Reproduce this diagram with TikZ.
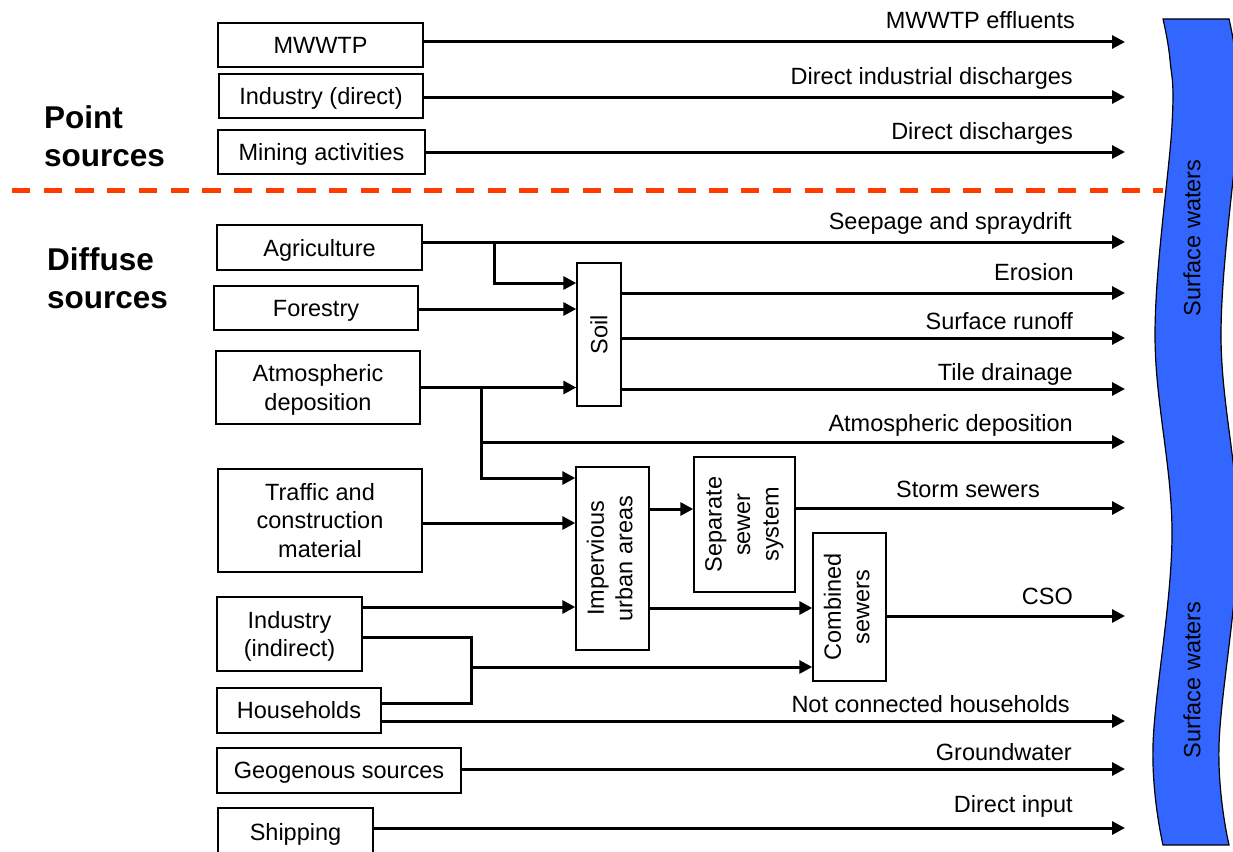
\documentclass[tikz,border=0pt]{standalone}
\usepackage{fontspec}
\setmainfont{Liberation Sans}
\usetikzlibrary{arrows.meta}
\definecolor{riverblue}{RGB}{51,102,255}
\definecolor{sepred}{RGB}{255,60,0}
\newcommand\nodepth[1]{\raisebox{0pt}[\height][0pt]{#1}}
\begin{document}
\begin{tikzpicture}[x=1pt,y=-1pt,
  box/.style={draw,line width=1.4pt,inner sep=0pt,align=center,font=\fontsize{23.5}{28.5}\selectfont},
  arr/.style={line width=3pt,-{Triangle[length=13pt,width=13pt]}},
  ln/.style={line width=3pt},
  lab/.style={anchor=base east,inner sep=0pt,font=\fontsize{23.5}{28.5}\selectfont},
  ttl/.style={anchor=west,inner sep=0pt,align=left,font=\fontsize{31.5}{38}\selectfont\bfseries},
  sw/.style={rotate=90,inner sep=0pt,font=\fontsize{23.5}{28.5}\selectfont}]
\useasboundingbox (0,0) rectangle (1233,851);

% separator
\draw[sepred,line width=5pt,dash pattern=on 18.3pt off 13.4pt] (12,190) -- (1163,190);

% river
\filldraw[fill=riverblue,draw=black,line width=1.2pt]
  plot[smooth,tension=0.6] coordinates {(1163,19) (1170,60) (1172,125) (1155,335) (1172,535) (1153,745) (1163,845)}
  -- plot[smooth,tension=0.6] coordinates {(1229,845) (1219,745) (1238,535) (1221,335) (1238,125) (1236,60) (1229,19)} -- cycle;
\node[sw] (sw1) at (1192,238) {Surface waters};
\node[sw] (sw2) at (1192,680) {Surface waters};

% titles
\node[ttl] (pt) at (44,136) {Point\\sources};
\node[ttl] (df) at (47,278) {Diffuse\\sources};

% source boxes
\node[box,minimum width=205,minimum height=44] (mwwtp) at (320.5,45) {MWWTP};
\node[box,minimum width=204,minimum height=44] (inddir) at (321,96) {\nodepth{Industry (direct)}};
\node[box,minimum width=207,minimum height=44] (mining) at (321.5,152) {\nodepth{Mining activities}};
\node[box,minimum width=205,minimum height=45] (agri) at (319.5,247.5) {\nodepth{Agriculture}};
\node[box,minimum width=204,minimum height=44] (forest) at (316,308) {\nodepth{Forestry}};
\node[box,minimum width=204,minimum height=73] (atmo) at (318,387.5) {Atmospheric\\\nodepth{deposition}};
\node[box,minimum width=204,minimum height=103] (traffic) at (320,520.5) {Traffic and\\construction\\material};
\node[box,minimum width=145,minimum height=74] (indind) at (289.5,634) {Industry\\\nodepth{(indirect)}};
\node[box,minimum width=164,minimum height=45] (house) at (299,710.5) {Households};
\node[box,minimum width=244,minimum height=45] (geo) at (339,770.5) {\nodepth{Geogenous sources}};
\node[box,minimum width=155,minimum height=47] (ship) at (295.5,831.5) {\nodepth{Shipping}};

% intermediate boxes
\node[box,minimum width=44,minimum height=143] (soil) at (599,334.5) {\rotatebox{90}{Soil}};
\node[box,minimum width=73,minimum height=183] (imperv) at (612.5,558.5) {\rotatebox{90}{\begin{tabular}{@{}c@{}}Impervious\\urban areas\end{tabular}}};
\node[box,minimum width=101,minimum height=135] (sep) at (744.5,524.5) {\rotatebox{90}{\begin{tabular}{@{}c@{}}Separate\\sewer\\\nodepth{system}\end{tabular}}};
\node[box,minimum width=73,minimum height=148] (comb) at (849.5,607) {\rotatebox{90}{\begin{tabular}{@{}c@{}}Combined\\sewers\end{tabular}}};

% arrow ends at the river
\coordinate (e1) at (1125,42);
\coordinate (e2) at (1125,97);
\coordinate (e3) at (1125,152);
\coordinate (e4) at (1125,242);
\coordinate (e5) at (1125,293);
\coordinate (e6) at (1125,338);
\coordinate (e7) at (1125,389);
\coordinate (e8) at (1125,442);
\coordinate (e9) at (1125,508);
\coordinate (e10) at (1125,616);
\coordinate (e11) at (1125,721);
\coordinate (e12) at (1125,769);
\coordinate (e13) at (1125,828);
% junctions
\coordinate (j1) at (494,242);
\coordinate (j2) at (481,387.5);
\coordinate (j3) at (471,667);

% point source arrows
\draw[arr] (mwwtp.east |- e1) -- (e1);
\draw[arr] (inddir.east |- e2) -- (e2);
\draw[arr] (mining.east |- e3) -- (e3);

% diffuse
\draw[arr] (agri.east |- e4) -- (e4);
\draw[arr] (j1) |- (soil.west |- 0,283);
\draw[arr] (forest.east |- 0,309) -- (soil.west |- 0,309);
\draw[arr] (atmo.east) -- (soil.west |- atmo.east);
\draw[arr] (soil.east |- e5) -- (e5);
\draw[arr] (soil.east |- e6) -- (e6);
\draw[arr] (soil.east |- e7) -- (e7);
\draw[arr] (j2 |- e8) -- (e8);
\draw[ln] (j2) -- (j2 |- e8);
\draw[arr] (j2 |- e8) |- (imperv.west |- 0,478);
\draw[arr] (traffic.east |- 0,523) -- (imperv.west |- 0,523);
\draw[arr] (imperv.east |- 0,509) -- (sep.west |- 0,509);
\draw[arr] (sep.east |- e9) -- (e9);
\draw[arr] (indind.east |- 0,607) -- (imperv.west |- 0,607);
\draw[arr] (imperv.east |- 0,608) -- (comb.west |- 0,608);
\draw[ln] (indind.east |- 0,637) -| (j3) |- (house.east |- 0,703);
\draw[arr] (j3) -- (comb.west |- j3);
\draw[arr] (comb.east |- e10) -- (e10);
\draw[arr] (house.east |- e11) -- (e11);
\draw[arr] (geo.east |- e12) -- (e12);
\draw[arr] (ship.east |- e13) -- (e13);

% labels
\node[lab] (l1) at (1075,29) {MWWTP effluents};
\node[lab] (l2) at (1073,84) {Direct industrial discharges};
\node[lab] (l3) at (1073,139) {Direct discharges};
\node[lab] (l4) at (1072,229) {Seepage and spraydrift};
\node[lab] (l5) at (1074,280) {Erosion};
\node[lab] (l6) at (1073,329) {Surface runoff};
\node[lab] (l7) at (1073,380) {Tile drainage};
\node[lab] (l8) at (1073,431) {Atmospheric deposition};
\node[lab] (l9) at (1040,497) {Storm sewers};
\node[lab] (l10) at (1073,604) {CSO};
\node[lab] (l11) at (1070,712) {Not connected households};
\node[lab] (l12) at (1072,760) {Groundwater};
\node[lab] (l13) at (1073,812) {Direct input};
\end{tikzpicture}
\end{document}
